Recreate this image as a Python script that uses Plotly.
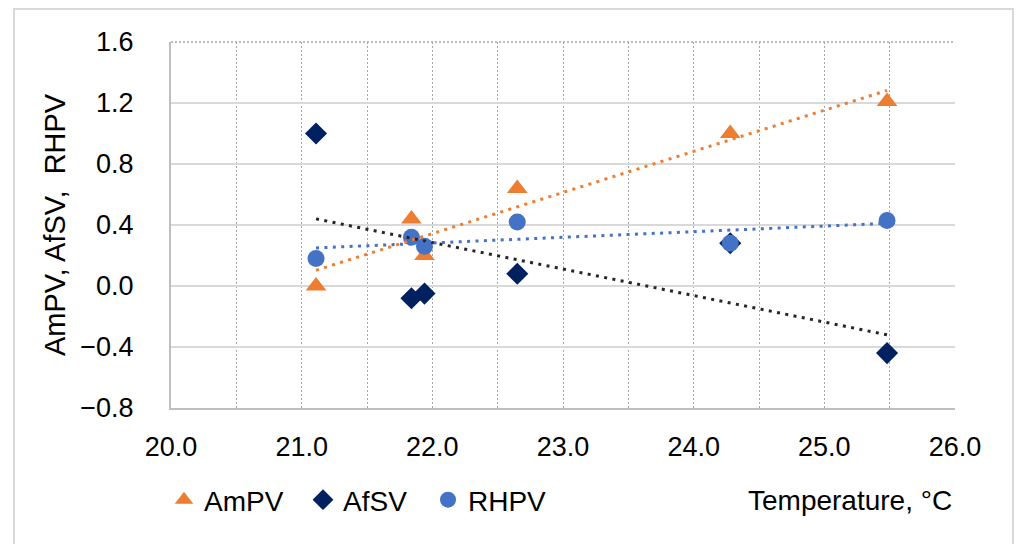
import numpy as np
import plotly.graph_objects as go

# Measured values per temperature
temperature = [21.11, 21.84, 21.94, 22.65, 24.28, 25.48]
ampv = [0.00, 0.44, 0.20, 0.64, 1.00, 1.21]
afsv = [1.00, -0.08, -0.05, 0.08, 0.28, -0.44]
rhpv = [0.18, 0.32, 0.26, 0.42, 0.28, 0.43]

x_ticks = [20, 21, 22, 23, 24, 25, 26]
y_ticks = [-0.8, -0.4, 0.0, 0.4, 0.8, 1.2, 1.6]

W, H = 1016, 544
ML, MR, MT, MB = 171, 61, 42, 136
PW, PH = W - ML - MR, H - MT - MB


def px_x(px):
    return (px - ML) / PW


def px_y(py):
    return (H - MB - py) / PH


FONT = "Arial, 'Liberation Sans', sans-serif"

series = [
    dict(name="AmPV", y=ampv, symbol="triangle-up", size=18,
         color="#ED7D31", trend="#ED7D31", legend="legend", lx=184),
    dict(name="AfSV", y=afsv, symbol="diamond", size=17,
         color="#002060", trend="#262626", legend="legend2", lx=323),
    dict(name="RHPV", y=rhpv, symbol="circle", size=17,
         color="#4472C4", trend="#4472C4", legend="legend3", lx=448),
]

fig = go.Figure()

for s in series:
    fig.add_trace(go.Scatter(
        x=temperature, y=s["y"], mode="markers", name=s["name"],
        legend=s["legend"],
        marker=dict(symbol=s["symbol"], size=s["size"], color=s["color"],
                    line=dict(width=0)),
    ))

# Linear trendlines over the measured temperature span
t = np.array(temperature)
t_line = np.array([t.min(), t.max()])
for s in series:
    k, b = np.polyfit(t, np.array(s["y"]), 1)
    fig.add_trace(go.Scatter(
        x=t_line, y=k * t_line + b, mode="lines", showlegend=False,
        hoverinfo="skip",
        line=dict(color=s["trend"], width=3, dash="3px,5.4px"),
    ))

legend_common = dict(orientation="h", xanchor="left", yanchor="middle",
                     y=px_y(500), bgcolor="rgba(0,0,0,0)",
                     itemsizing="trace",
                     font=dict(family=FONT, size=28, color="#000000"))

fig.update_layout(
    width=W, height=H,
    margin=dict(l=ML, r=MR, t=MT, b=MB, autoexpand=False),
    paper_bgcolor="#ffffff", plot_bgcolor="#ffffff",
    font=dict(family=FONT, size=27, color="#000000"),
    legend=dict(legend_common, x=px_x(series[0]["lx"] - 20)),
    legend2=dict(legend_common, x=px_x(series[1]["lx"] - 20)),
    legend3=dict(legend_common, x=px_x(series[2]["lx"] - 20)),
    xaxis=dict(
        range=[x_ticks[0], x_ticks[-1]], tickvals=x_ticks, tickformat=".1f",
        showline=True, linecolor="#bfbfbf", linewidth=2,
        showgrid=True, gridcolor="#a6a6a6", gridwidth=1, griddash="2px,2px",
        minor=dict(dtick=0.5, showgrid=True, gridcolor="#a6a6a6",
                   gridwidth=1, griddash="2px,2px"),
        zeroline=False, ticks="", ticklabelstandoff=14,
        tickfont=dict(family=FONT, size=27, color="#000000"),
    ),
    yaxis=dict(
        range=[y_ticks[0], y_ticks[-1]], tickvals=y_ticks, tickformat=".1f",
        showline=True, linecolor="#bfbfbf", linewidth=2,
        showgrid=True, gridcolor="#d9d9d9", gridwidth=2,
        zeroline=False, ticks="", ticklabelstandoff=30,
        tickfont=dict(family=FONT, size=27, color="#000000"),
    ),
    annotations=[
        dict(text="Temperature, °C", xref="paper", yref="paper",
             x=px_x(954), y=px_y(500), xanchor="right", yanchor="middle",
             showarrow=False, font=dict(family=FONT, size=28, color="#000000")),
        dict(text="AmPV, AfSV,  RHPV", xref="paper", yref="paper",
             x=px_x(55), y=0.5, xanchor="center", yanchor="middle",
             textangle=-90, showarrow=False,
             font=dict(family=FONT, size=29, color="#000000")),
    ],
    shapes=[
        # chart frame
        dict(type="rect", xref="paper", yref="paper", layer="below",
             x0=px_x(14), x1=px_x(1013), y0=px_y(560), y1=px_y(9),
             line=dict(color="#d9d9d9", width=2)),
        # dotted top edge of the plot area
        dict(type="line", xref="paper", yref="paper", layer="above",
             x0=0, x1=1, y0=1, y1=1,
             line=dict(color="#a6a6a6", width=1.5, dash="2px,2px")),
    ],
)

fig.write_html("out.html")
